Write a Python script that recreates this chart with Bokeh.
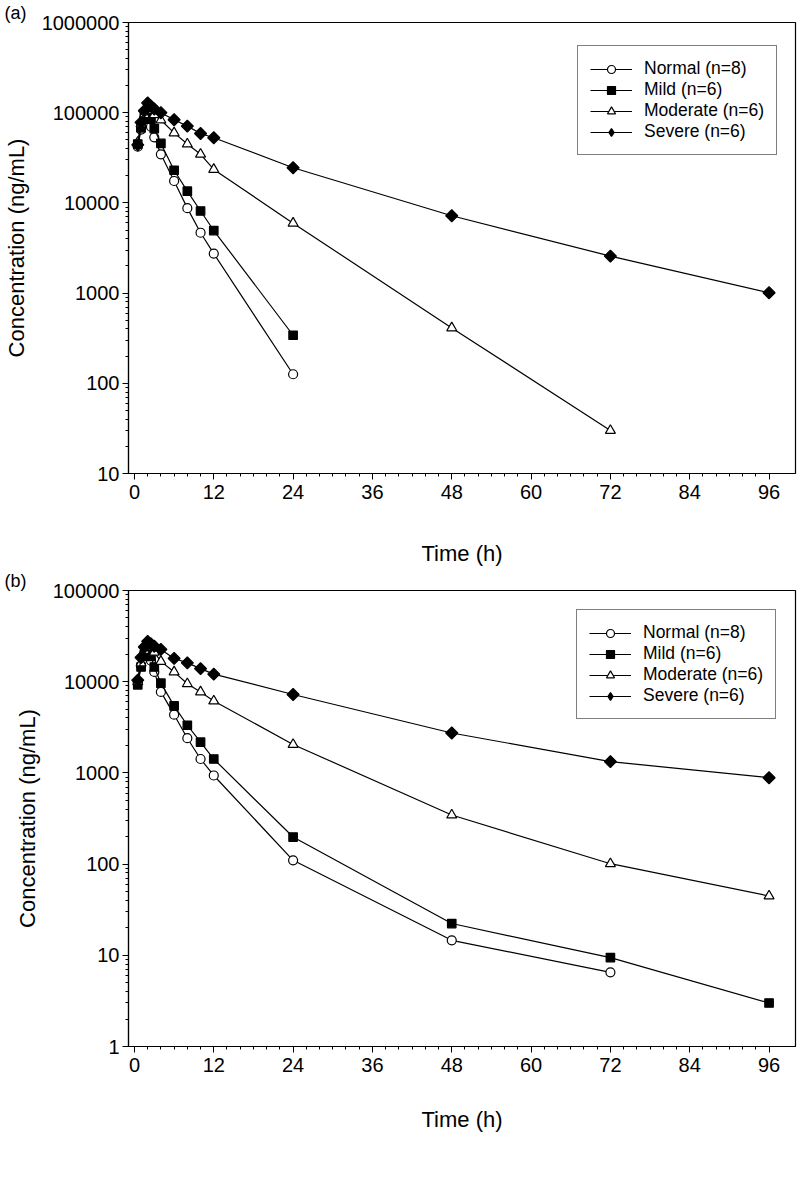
import numpy as np
from bokeh.plotting import figure
from bokeh.layouts import column
from bokeh.models import (FixedTicker, CustomJSTickFormatter, Legend, LegendItem, Range1d)
from bokeh.embed import file_html
from bokeh.resources import INLINE

# ---------------- data ----------------
time_early = [0.5, 1, 1.5, 2, 2.5, 3, 4, 6, 8, 10, 12]
time_24 = time_early + [24]
time_48 = time_24 + [48]
time_72 = time_48 + [72]
time_96 = time_72 + [96]

labels = ["Normal (n=8)", "Mild (n=6)", "Moderate (n=6)", "Severe (n=6)"]

# panel (a)
a_normal_t = time_24
a_normal = [42000, 65000, 85000, 90000, 70000, 53300, 34600, 17500, 8750, 4670, 2740, 126]
a_mild_t = time_24
a_mild = [45000, 68000, 90000, 100000, 85000, 66600, 45600, 23000, 13500, 8130, 4940, 341]
a_moderate_t = time_72
a_moderate = [47000, 75000, 95000, 110000, 105000, 95000, 82900, 59700, 44900, 34600, 23500,
              5960, 411, 30]
a_severe_t = time_96
a_severe = [44000, 78000, 105000, 128000, 118000, 110000, 100000, 83600, 71000, 58800, 52800,
            24500, 7200, 2570, 1010]

# panel (b)
b_normal_t = time_72
b_normal = [10000, 15000, 19000, 22000, 17000, 12800, 7730, 4350, 2400, 1420, 937,
            110, 14.6, 6.5]
b_mild_t = time_96
b_mild = [9250, 14500, 20000, 24000, 19000, 14500, 9640, 5430, 3330, 2170, 1420,
          198, 22.3, 9.44, 3.0]
b_moderate_t = time_96
b_moderate = [10000, 16000, 22000, 26000, 24000, 21000, 16700, 12800, 9480, 7730, 6150,
              2050, 345, 101, 44.7]
b_severe_t = time_96
b_severe = [10400, 18400, 24000, 27700, 26000, 24500, 22600, 18000, 16100, 13900, 12100,
            7240, 2740, 1330, 885]

x_major = [0, 12, 24, 36, 48, 60, 72, 84, 96]
x_minor = [t for t in range(0, 97, 2) if t % 12 != 0]

FONT = "Liberation Sans"
W = 800
BL, BR = 127, 5
X0, X1 = -0.9, 100


def make_panel(tag, series, ymin_exp, ymax_exp, height, btop, bbot, xlab_standoff, leg_off):
    p = figure(width=W, height=height, y_axis_type="log",
               x_range=Range1d(X0, X1), y_range=Range1d(10 ** ymin_exp, 10 ** ymax_exp),
               output_backend="svg", toolbar_location=None,
               min_border_left=BL, min_border_right=BR,
               min_border_top=btop, min_border_bottom=bbot,
               background_fill_color="white", border_fill_color="white")
    p.grid.visible = False
    p.outline_line_color = "black"
    p.outline_line_width = 1.2
    p.outline_line_alpha = 1

    # panel tag as a left-shifted title
    p.title.text = tag
    p.title.text_font = FONT
    p.title.text_font_size = "18px"
    p.title.text_font_style = "normal"
    p.title.text_color = "black"
    p.title.align = "left"
    p.title.offset = -BL + 3
    p.title.standoff = 0

    # axes
    ymaj = [10 ** k for k in range(ymin_exp, ymax_exp + 1)]
    ymin_t = [m * 10 ** k for k in range(ymin_exp, ymax_exp) for m in range(2, 10)]
    p.yaxis.ticker = FixedTicker(ticks=ymaj, minor_ticks=ymin_t)
    p.yaxis.formatter = CustomJSTickFormatter(code="return Math.round(tick).toString();")
    p.xaxis.ticker = FixedTicker(ticks=x_major, minor_ticks=x_minor)
    for ax in (p.xaxis[0], p.yaxis[0]):
        ax.axis_line_color = "black"
        ax.axis_line_width = 1.2
        ax.major_tick_line_color = "black"
        ax.minor_tick_line_color = "black"
        ax.major_tick_in = 0
        ax.major_tick_out = 6
        ax.minor_tick_in = 0
        ax.minor_tick_out = 3
        ax.major_label_text_font = FONT
        ax.major_label_text_font_size = "20px"
        ax.major_label_text_color = "black"
        ax.axis_label_text_font = FONT
        ax.axis_label_text_font_size = "22px"
        ax.axis_label_text_font_style = "normal"
        ax.axis_label_text_color = "black"
    p.xaxis.axis_label = "Time (h)"
    p.yaxis.axis_label = "Concentration (ng/mL)"
    p.xaxis.major_label_standoff = 5
    p.xaxis.axis_label_standoff = xlab_standoff
    p.yaxis.major_label_standoff = 3
    p.yaxis.axis_label_standoff = 10

    styles = [
        dict(marker="circle", size=9, fill_color="white", angle=0, leg="circle"),
        dict(marker="square", size=8.5, fill_color="black", angle=0, leg="square"),
        dict(marker="triangle", size=10, fill_color="white", angle=0, leg="triangle"),
        dict(marker="square", size=8.5, fill_color="black", angle=np.pi / 4, leg="diamond"),
    ]
    items = []
    for (t, v), st, lab in zip(series, styles, labels):
        lr = p.line(t, v, line_color="black", line_width=1.2)
        sr = p.scatter(t, v, marker=st["marker"], size=st["size"], angle=st["angle"],
                       fill_color=st["fill_color"], line_color="black", line_width=1.2)
        if st["leg"] != st["marker"]:
            # legend-only glyph (the legend does not rotate markers)
            sr = p.scatter([np.nan], [np.nan], marker=st["leg"], size=st["size"],
                           fill_color=st["fill_color"], line_color="black", line_width=1.2)
        items.append(LegendItem(label=lab, renderers=[lr, sr]))

    leg = Legend(items=items, location=leg_off)
    leg.border_line_color = "black"
    leg.border_line_width = 1.2
    leg.background_fill_color = "white"
    leg.background_fill_alpha = 1
    leg.label_text_font = FONT
    leg.label_text_font_size = "17.5px"
    leg.label_text_color = "black"
    leg.glyph_width = 42
    leg.glyph_height = 20
    leg.label_height = 20
    leg.spacing = 0
    leg.padding = 12
    leg.margin = 0
    leg.label_standoff = 12
    p.add_layout(leg)
    return p


pa = make_panel("(a)",
                [(a_normal_t, a_normal), (a_mild_t, a_mild),
                 (a_moderate_t, a_moderate), (a_severe_t, a_severe)],
                1, 6, 568, 21, 95, 39, (449, 318))
pb = make_panel("(b)",
                [(b_normal_t, b_normal), (b_mild_t, b_mild),
                 (b_moderate_t, b_moderate), (b_severe_t, b_severe)],
                0, 5, 578, 22, 100, 32, (448, 327))

layout = column(pa, pb, spacing=0)
open("out.html", "w").write(file_html(layout, INLINE))
